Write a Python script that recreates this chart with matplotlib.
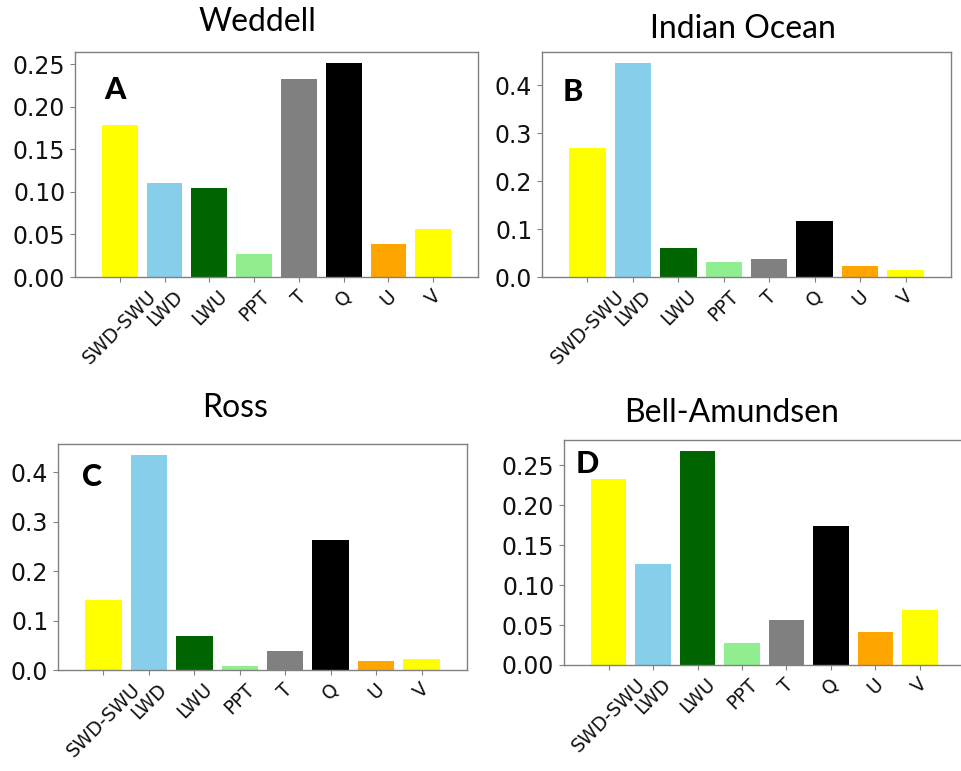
import matplotlib
matplotlib.use("Agg")
import matplotlib.pyplot as plt

categories = ["SWD-SWU", "LWD", "LWU", "PPT", "T", "Q", "U", "V"]
bar_colors = ["#FFFF00", "#87CEEB", "#006400", "#90EE90", "#808080", "#000000", "#FFA500", "#FFFF00"]

weddell = [0.1786, 0.1107, 0.1044, 0.0275, 0.2331, 0.2520, 0.0385, 0.0569]
indian = [0.2695, 0.4475, 0.0600, 0.0307, 0.0377, 0.1173, 0.0223, 0.0154]
ross = [0.1415, 0.4354, 0.0680, 0.0082, 0.0380, 0.2633, 0.0190, 0.0231]
bell = [0.2328, 0.1271, 0.2685, 0.0277, 0.0558, 0.1745, 0.0411, 0.0688]

titles = ["Weddell", "Indian Ocean", "Ross", "Bell-Amundsen"]
letters = ["A", "B", "C", "D"]
yticks_a = [0.00, 0.05, 0.10, 0.15, 0.20, 0.25]
yticks_b = [0.0, 0.1, 0.2, 0.3, 0.4]

W, H = 962, 771
fig = plt.figure(figsize=(W / 100, H / 100), dpi=100)

def box(l, r, t, b):
    return [l / W, 1 - b / H, (r - l) / W, (b - t) / H]

panels = [
    (weddell, box(75, 478, 52, 277), yticks_a, "{:.2f}", (257, 22), (114.5, 90)),
    (indian, box(542, 951, 52, 277), yticks_b, "{:.1f}", (743, 29), (572.5, 92)),
    (ross, box(58, 467, 444, 670), yticks_b, "{:.1f}", (235, 408), (92, 476.5)),
    (bell, box(564, 964.5, 440, 665), yticks_a, "{:.2f}", (732, 413), (587.5, 464)),
]

for i, (vals, rect, yt, fmt, tpos, lpos) in enumerate(panels):
    ax = fig.add_axes(rect)
    x = list(range(len(categories)))
    ax.bar(x, vals, width=0.8, color=bar_colors)
    ax.set_xlim(-1, 8)
    ax.set_ylim(0, max(vals) * 1.05)
    ax.set_xticks(x)
    ax.set_xticklabels(categories, rotation=45, fontsize=13.5)
    ax.set_yticks(yt)
    ax.set_yticklabels([fmt.format(v) for v in yt], fontsize=17)
    for s in ax.spines.values():
        s.set_color("#808080")
        s.set_linewidth(1.0)
    ax.tick_params(colors="#808080", labelcolor="#111111", length=3.5)
    fig.text(tpos[0] / W, 1 - tpos[1] / H, titles[i], fontsize=23,
             family="Lato", ha="center", va="center", color="black")
    fig.text(lpos[0] / W, 1 - lpos[1] / H, letters[i], fontsize=22,
             family="Lato", weight="black", ha="center", va="center", color="black")

fig.savefig("out.png", dpi=100)
